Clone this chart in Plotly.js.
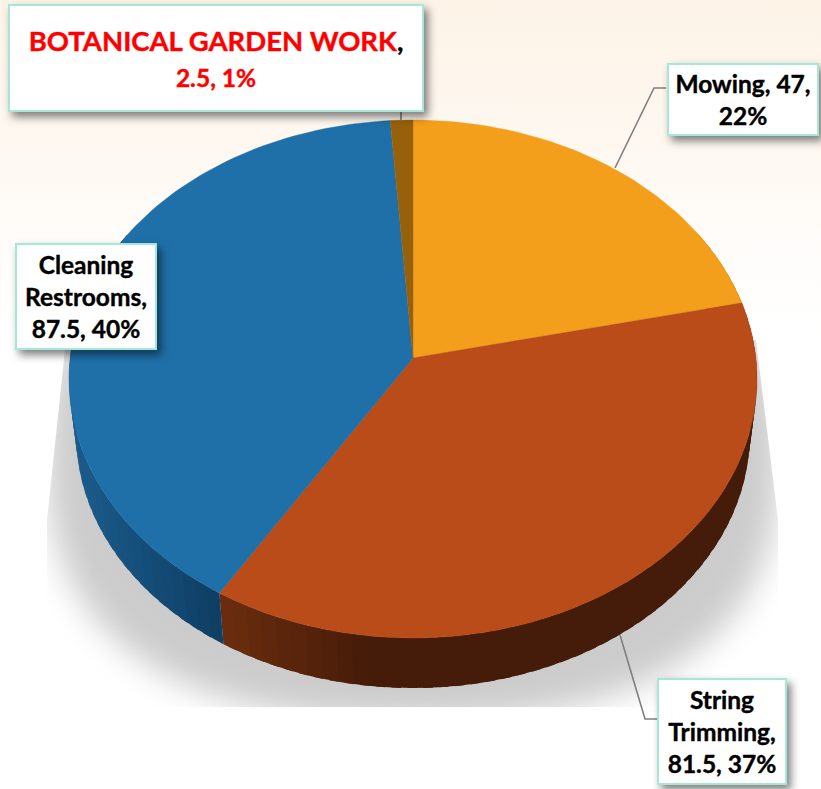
<!DOCTYPE html>
<html>
<head>
<meta charset="utf-8">
<script src="https://cdn.plot.ly/plotly-3.0.1.min.js"></script>
<style>
html,body{margin:0;padding:0;width:821px;height:789px;overflow:hidden;
  background:linear-gradient(to bottom,#fdf3e7 0px,#fef8f1 150px,#fffdfb 260px,#ffffff 340px);}
#chart{width:821px;height:789px;}
.annotation-text-g rect{filter:drop-shadow(4px 5px 4px rgba(0,0,0,.5));}
.annotation-text{stroke:#000;stroke-width:.4px;transform:translateY(1.5px);}
</style>
</head>
<body>
<svg width="0" height="0" style="position:absolute">
  <defs>
    <clipPath id="shadowClip" clipPathUnits="userSpaceOnUse">
      <polygon points="66,340 756,340 778,520 778,707 47,707 47,520"></polygon>
    </clipPath>
  </defs>
</svg>
<div id="chart"></div>
<script>
// ---- data ----
var categories = ['Mowing', 'String Trimming', 'Cleaning Restrooms', 'BOTANICAL GARDEN WORK'];
var values = [47, 81.5, 87.5, 2.5];
var percents = [22, 37, 40, 1];
var topColors = ['#F49F1B', '#BA4C19', '#1F70A9', '#97610C'];
var sideFrom = ['#8a5a10', '#451b09', '#0e3e63', '#5a3a08'];
var sideTo = ['#8a5a10', '#6c2d0e', '#1b5c8d', '#5a3a08'];
var labelBreaks = [
  'Mowing, 47,<br>22%',
  'String<br>Trimming,<br>81.5, 37%',
  'Cleaning<br>Restrooms,<br>87.5, 40%',
  '<span style="color:#ff0000;stroke:#ff0000">BOTANICAL GARDEN WORK</span>,<br><span style="color:#ff0000;stroke:#ff0000;font-size:24.5px">2.5, 1%</span>'
];
var labelSizes = [24.5, 24.5, 24.5, 27.5];
var boxCenterX = [743, 722, 86, 216];
var boxCenterY = [99.5, 731.5, 296.5, 58];
var boxWidth = [152, 130, 142, 416];
var boxHeight = [73, 107, 107, 108];
var leaderX = [[666, 654, 615], [657, 645, 620], [], [401, 401]];
var leaderY = [[88, 88, 168], [719, 719, 635], [], [112, 120]];

// ---- projection of the tilted disc ----
var CX = 413, CY = 358, RX = 342.9, RY = 257.3, K = 0.0811;
var DROP_SCALE = 0.979, DROP_CY = 414;
function rim(deg) {
  var a = deg * Math.PI / 180, u = Math.sin(a), v = Math.cos(a), d = 1 + K * v;
  return [CX + RX * u / d, CY - RY * v / d];
}
function lowRim(deg) {
  var p = rim(deg);
  return [CX + DROP_SCALE * (p[0] - CX), DROP_CY + DROP_SCALE * (p[1] - CY)];
}
function hex(c) { return [1, 3, 5].map(function (i) { return parseInt(c.substr(i, 2), 16); }); }
function mix(a, b, t) {
  var A = hex(a), B = hex(b);
  return 'rgb(' + A.map(function (x, i) { return Math.round(x + (B[i] - x) * t); }).join(',') + ')';
}

var total = values.reduce(function (s, x) { return s + x; }, 0);
var traces = [];
function fillTrace(xs, ys, color, lw) {
  return {
    type: 'scatter', mode: lw ? 'lines' : 'none', x: xs, y: ys, fill: 'toself', fillcolor: color,
    line: { color: color, width: lw }, hoverinfo: 'skip', showlegend: false
  };
}

// ground shadow
var sx = [], sy = [], EXP = 0.8;
for (var t = 0; t < 360; t += 3) {
  var a = t * Math.PI / 180, sn = Math.sin(a), cs = Math.cos(a);
  sx.push(413 + 366 * (sn < 0 ? -1 : 1) * Math.pow(Math.abs(sn), EXP));
  sy.push(455 + 265 * (cs < 0 ? -1 : 1) * Math.pow(Math.abs(cs), EXP));
}
traces.push(fillTrace(sx, sy, '#cccccc', 0));

// side wall strips
var start = 0;
var spans = values.map(function (v) {
  var s = [start, start + v / total * 360];
  start = s[1];
  return s;
});
spans.forEach(function (s, i) {
  var lo = Math.max(s[0], 60), hi = Math.min(s[1], 300);
  if (hi <= lo) return;
  var n = Math.ceil((hi - lo) / 2.5);
  var xa = i === 1 ? rim(s[1])[0] : rim(270)[0];
  var xb = i === 1 ? xa + 150 : rim(s[0])[0];
  for (var j = 0; j < n; j++) {
    var d0 = lo + (hi - lo) * j / n, d1 = Math.min(hi, lo + (hi - lo) * (j + 1.6) / n);
    var dm = lo + (hi - lo) * (j + 0.5) / n;
    var p0 = rim(d0), p1 = rim(d1), q0 = lowRim(d0), q1 = lowRim(d1);
    var tt = Math.min(1, Math.max(0, (xb - rim(dm)[0]) / (xb - xa)));
    traces.push(fillTrace([p0[0], p1[0], q1[0], q0[0]], [p0[1], p1[1], q1[1], q0[1]],
      mix(sideFrom[i], sideTo[i], tt), 0));
  }
});

// top faces
spans.forEach(function (s, i) {
  var xs = [CX], ys = [CY];
  var n = Math.max(4, Math.ceil((s[1] - s[0]) / 1.5));
  for (var j = 0; j <= n; j++) {
    var p = rim(s[0] + (s[1] - s[0]) * j / n);
    xs.push(p[0]); ys.push(p[1]);
  }
  xs.push(CX); ys.push(CY);
  var tr = fillTrace(xs, ys, topColors[i], 0.4);
  tr.name = categories[i];
  traces.push(tr);
});

// leader lines
leaderX.forEach(function (lx, i) {
  if (!lx.length) return;
  traces.push({
    type: 'scatter', mode: 'lines', x: lx, y: leaderY[i],
    line: { color: '#7f7f7f', width: 1.6 }, hoverinfo: 'skip', showlegend: false
  });
});

// callouts
var annotations = categories.map(function (c, i) {
  return {
    xref: 'x', yref: 'y', x: boxCenterX[i], y: boxCenterY[i],
    xanchor: 'center', yanchor: 'middle', showarrow: false, align: 'center', valign: 'middle',
    text: labelBreaks[i], width: boxWidth[i] - 4, height: boxHeight[i] - 4,
    bgcolor: '#ffffff', bordercolor: '#a6e8d8', borderwidth: 2, borderpad: 0,
    font: { family: 'Lato, Carlito, sans-serif', size: labelSizes[i], color: '#000000', weight: 700 }
  };
});

var axis = { visible: false, fixedrange: true, showgrid: false, zeroline: false };
var layout = {
  width: 821, height: 789, margin: { l: 0, r: 0, t: 0, b: 0 },
  paper_bgcolor: 'rgba(0,0,0,0)', plot_bgcolor: 'rgba(0,0,0,0)',
  xaxis: Object.assign({ range: [0, 821] }, axis),
  yaxis: Object.assign({ range: [789, 0] }, axis),
  showlegend: false, annotations: annotations
};
Plotly.newPlot('chart', traces, layout, { displayModeBar: false, staticPlot: true }).then(function () {
  var f = document.querySelector('.scatterlayer .trace .js-fill');
  if (f) {
    f.style.filter = 'blur(16px)';
    f.parentNode.style.clipPath = 'url(#shadowClip)';
  }
});
</script>
</body>
</html>
